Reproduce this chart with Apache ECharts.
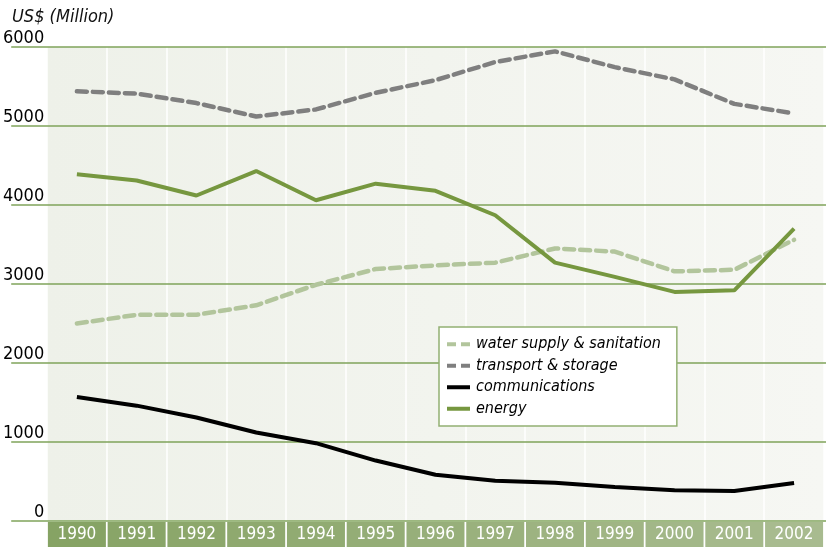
<!DOCTYPE html>
<html>
<head>
    <meta charset="utf-8" />
    <title>US$ (Million)</title>
    <style>
        html, body { margin: 0; padding: 0; background: #fff; }
        #charts { width: 826px; height: 547px; }
    </style>
</head>
<body>
    <div id="charts"></div>
    <script src="https://cdn.jsdelivr.net/npm/echarts@6/dist/echarts.min.js"></script>
    <script type="text/javascript">
        // 数据
        var years = ['1990', '1991', '1992', '1993', '1994', '1995', '1996', '1997', '1998', '1999', '2000', '2001', '2002'];
        var water = [2500, 2610, 2610, 2730, 2990, 3190, 3235, 3270, 3450, 3410, 3160, 3180, 3560];
        var transport = [5440, 5410, 5290, 5120, 5210, 5420, 5580, 5810, 5945, 5745, 5590, 5280, 5160];
        var communications = [1570, 1460, 1310, 1120, 985, 765, 585, 510, 485, 430, 390, 380, 480];
        var energy = [4390, 4310, 4120, 4430, 4060, 4270, 4180, 3870, 3270, 3090, 2900, 2920, 3700];
        var yTicks = [0, 1000, 2000, 3000, 4000, 5000, 6000];

        var font = "'Liberation Sans Narrow', 'DejaVu Sans Condensed', 'Liberation Sans', sans-serif";

        // 图例图标：虚线 / 实线
        var dashIcon = 'path://M0,0h9v4h-9zM14,0h9v4h-9z';
        var solidIcon = 'path://M0,0h23v4h-23z';

        // 年份标签底色，由左到右渐浅
        function mix(a, b, t) {
            var r = Math.round(a[0] + (b[0] - a[0]) * t);
            var g = Math.round(a[1] + (b[1] - a[1]) * t);
            var bl = Math.round(a[2] + (b[2] - a[2]) * t);
            return 'rgb(' + r + ',' + g + ',' + bl + ')';
        }
        var rich = {};
        for (var i = 0; i < years.length; i++) {
            rich['c' + i] = {
                width: 58,
                height: 25,
                lineHeight: 25,
                align: 'center',
                color: '#fff',
                fontSize: 17,
                fontFamily: font,
                backgroundColor: mix([134, 163, 100], [168, 187, 143], i / (years.length - 1))
            };
        }

        var myChart = echarts.init(document.getElementById('charts'));

        var option = {
            animation: false,
            textStyle: { fontFamily: font },
            title: {
                text: 'US$ (Million)',
                left: 7,
                top: 3,
                textStyle: { fontSize: 18, fontStyle: 'italic', fontWeight: 'normal', color: '#111', fontFamily: font }
            },
            legend: {
                orient: 'vertical',
                left: 439,
                top: 327,
                padding: [9, 16, 9, 8],
                itemGap: 5,
                itemWidth: 25,
                itemHeight: 4,
                backgroundColor: '#fff',
                borderColor: '#93b073',
                borderWidth: 1.5,
                textStyle: { fontSize: 16, fontStyle: 'italic', color: '#000', fontFamily: font, lineHeight: 16.5 },
                data: [
                    { name: 'water supply & sanitation', icon: dashIcon },
                    { name: 'transport & storage', icon: dashIcon },
                    { name: 'communications', icon: solidIcon },
                    { name: 'energy', icon: solidIcon }
                ]
            },
            grid: [
                { left: 9, right: 0, top: 47, bottom: 26, show: false },
                {
                    left: 47, right: 0, top: 47, bottom: 26, show: true, borderWidth: 0,
                    backgroundColor: new echarts.graphic.LinearGradient(0, 0, 1, 0, [
                        { offset: 0, color: '#eef1e9' },
                        { offset: 1, color: '#f6f7f3' }
                    ])
                }
            ],
            xAxis: [
                { gridIndex: 0, type: 'value', show: false, min: 0, max: 1 },
                {
                    gridIndex: 1,
                    type: 'category',
                    data: years,
                    boundaryGap: true,
                    axisLine: { show: false },
                    axisTick: { show: false },
                    splitLine: { show: true, interval: 0, lineStyle: { color: '#ffffff', width: 1.5 } },
                    axisLabel: {
                        interval: 0,
                        margin: 1,
                        formatter: function (v, idx) { return '{c' + idx + '|' + v + '}'; },
                        rich: rich
                    }
                }
            ],
            yAxis: [
                {
                    gridIndex: 0,
                    type: 'value',
                    min: yTicks[0],
                    max: yTicks[yTicks.length - 1],
                    interval: 1000,
                    z: 3,
                    axisLine: { show: false },
                    axisTick: { show: false },
                    splitLine: { show: true, lineStyle: { color: '#7fa35a', width: 1.5 } },
                    axisLabel: {
                        inside: true,
                        align: 'right',
                        verticalAlign: 'bottom',
                        margin: 33,
                        fontSize: 18,
                        color: '#000',
                        fontFamily: font,
                        formatter: function (v) { return String(v); }
                    }
                },
                { gridIndex: 1, type: 'value', min: 0, max: 6000, show: false }
            ],
            series: [
                {
                    name: 'water supply & sanitation',
                    type: 'line',
                    xAxisIndex: 1, yAxisIndex: 1,
                    symbol: 'none',
                    z: 4,
                    data: water,
                    color: '#b2c59c',
                    lineStyle: { width: 4.5, type: [10, 6], cap: 'round', color: '#b2c59c' }
                },
                {
                    name: 'transport & storage',
                    type: 'line',
                    xAxisIndex: 1, yAxisIndex: 1,
                    symbol: 'none',
                    z: 4,
                    data: transport,
                    color: '#7f7f7f',
                    lineStyle: { width: 4.5, type: [10, 6], cap: 'round', color: '#7f7f7f' }
                },
                {
                    name: 'communications',
                    type: 'line',
                    xAxisIndex: 1, yAxisIndex: 1,
                    symbol: 'none',
                    z: 4,
                    data: communications,
                    color: '#000',
                    lineStyle: { width: 4, color: '#000' }
                },
                {
                    name: 'energy',
                    type: 'line',
                    xAxisIndex: 1, yAxisIndex: 1,
                    symbol: 'none',
                    z: 4,
                    data: energy,
                    color: '#76973f',
                    lineStyle: { width: 4, color: '#76973f' }
                }
            ]
        };

        myChart.setOption(option);
    </script>
</body>
</html>
